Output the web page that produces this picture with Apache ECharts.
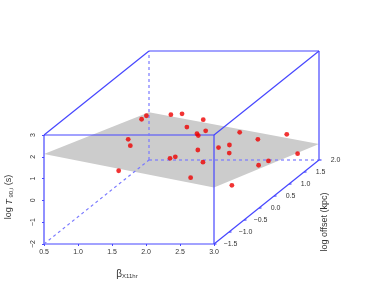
<!DOCTYPE html>
<html>
<head>
<meta charset="utf-8">
<script src="https://cdn.jsdelivr.net/npm/echarts@6/dist/echarts.min.js"></script>
<style>html,body{margin:0;padding:0;background:#fff}#c{width:374px;height:307px}</style>
</head>
<body>
<div id="c"></div>
<script>
// ---- data ----
const xRange = [0.5, 3.0];          // beta_X11hr
const yRange = [-1.5, 2.0];         // log offset (kpc)
const zRange = [-2, 3];             // log T90,i (s)
const xTicks = [0.5, 1.0, 1.5, 2.0, 2.5, 3.0];
const yTicks = [-1.5, -1.0, -0.5, 0.0, 0.5, 1.0, 1.5, 2.0];
const zTicks = [-2, -1, 0, 1, 2, 3];
const xVals = [0.70,0.55,0.91,1.03,1.43,1.41,1.47,1.71,1.51,0.90,1.24,1.88,1.78,1.99,2.22,1.51,2.48,2.14,2.01,2.57,2.41,2.08,2.43,2.95,2.83,2.95,2.91];
const yVals = [1.30,1.80,1.80,1.90,1.70,1.20,1.40,0.90,1.60,0.40,-0.30,0.50,-0.20,-0.50,-0.10,-1.30,-1.10,0.60,1.60,1.90,1.30,1.10,0.30,1.40,0.70,0.10,-0.70];
const zVals = [0.64,0.25,0.30,0.23,0.18,0.39,-0.13,0.33,-0.22,0.71,1.19,0.11,0.50,0.90,0.21,1.14,0.60,0.11,-0.29,-0.71,-0.28,-0.32,0.19,-1.05,-0.61,-0.15,-0.19];
// fitted plane: z at corners [y index][x index]
const planeZ = [[2.13, 0.59], [0.19, -1.27]];

// ---- oblique projection (scatterplot3d-style) ----
const kx = 30 / 68, kz = 24 / 21.8;
function proj(x, y, z) { return [x + (y - yRange[0]) * kx, z + (y - yRange[0]) * kz]; }

const X0 = xRange[0], X1 = xRange[1], Y0 = yRange[0], Y1 = yRange[1], Z0 = zRange[0], Z1 = zRange[1];
const edges = [
  [[X0,Y0,Z0],[X1,Y0,Z0],0],[[X0,Y0,Z1],[X1,Y0,Z1],0],[[X0,Y0,Z0],[X0,Y0,Z1],0],[[X1,Y0,Z0],[X1,Y0,Z1],0],
  [[X0,Y1,Z1],[X1,Y1,Z1],0],[[X1,Y1,Z0],[X1,Y1,Z1],0],[[X0,Y1,Z0],[X0,Y1,Z1],1],[[X0,Y1,Z0],[X1,Y1,Z0],1],
  [[X0,Y0,Z1],[X0,Y1,Z1],0],[[X1,Y0,Z1],[X1,Y1,Z1],0],[[X1,Y0,Z0],[X1,Y1,Z0],0],[[X0,Y0,Z0],[X0,Y1,Z0],1]
];
const edgeData = edges.map(e => { const a = proj(...e[0]), b = proj(...e[1]); return [a[0], a[1], b[0], b[1], e[2]]; });
const planeCorners = [
  proj(xRange[0], yRange[0], planeZ[0][0]), proj(xRange[1], yRange[0], planeZ[0][1]),
  proj(xRange[1], yRange[1], planeZ[1][1]), proj(xRange[0], yRange[1], planeZ[1][0])
];
const pts = xVals.map((x, i) => proj(x, yVals[i], zVals[i]));
const depthTickData = yTicks.map(v => { const p = proj(xRange[1], v, zRange[0]); return [p[0], p[1], v]; });

const FONT = 'Liberation Sans, Arial, sans-serif';
const BLUE = '#4646ff';
const chart = echarts.init(document.getElementById('c'), null, {renderer: 'canvas'});
const minus = s => String(s).replace('-', '\u2212');

chart.setOption({
  animation: false,
  backgroundColor: '#ffffff',
  grid: {left: 44, top: 51, width: 275, height: 193},
  xAxis: {
    type: 'value', min: xRange[0], max: xRange[1] + (yRange[1] - yRange[0]) * kx,
    splitLine: {show: false}, axisLine: {show: false, onZero: false},
    axisTick: {show: true, customValues: xTicks, length: 2, lineStyle: {color: BLUE}},
    axisLabel: {customValues: xTicks, formatter: v => v.toFixed(1), fontSize: 7, margin: 5, color: '#333', fontFamily: FONT}
  },
  yAxis: {
    type: 'value', min: zRange[0], max: zRange[1] + (yRange[1] - yRange[0]) * kz,
    splitLine: {show: false}, axisLine: {show: false, onZero: false},
    axisTick: {show: true, customValues: zTicks, length: 2, lineStyle: {color: BLUE}},
    axisLabel: {customValues: zTicks, formatter: v => minus(v), rotate: 90, fontSize: 7, margin: 7, color: '#333', fontFamily: FONT}
  },
  series: [
    {
      type: 'custom', silent: true, clip: false, z: 1,
      data: [[0]],
      renderItem: (params, api) => ({
        type: 'polygon',
        shape: {points: planeCorners.map(c => api.coord(c))},
        style: {fill: '#cccccc', stroke: null}
      })
    },
    {
      type: 'custom', silent: true, clip: false, z: 2,
      data: edgeData,
      renderItem: (params, api) => {
        const a = api.coord([api.value(0), api.value(1)]);
        const b = api.coord([api.value(2), api.value(3)]);
        const dashed = api.value(4) === 1;
        return {
          type: 'line',
          shape: {x1: a[0], y1: a[1], x2: b[0], y2: b[1]},
          style: dashed ? {stroke: '#7a7aff', lineWidth: 1.2, lineDash: [3, 3]} : {stroke: BLUE, lineWidth: 1.2}
        };
      }
    },
    {
      type: 'custom', silent: true, clip: false, z: 3,
      data: depthTickData,
      renderItem: (params, api) => {
        const p = api.coord([api.value(0), api.value(1)]);
        const v = api.value(2);
        return {
          type: 'group',
          children: [
            {type: 'line', shape: {x1: p[0], y1: p[1], x2: p[0] + 2.5, y2: p[1]}, style: {stroke: BLUE, lineWidth: 1.2}},
            {type: 'text', x: p[0] + 16.5, y: p[1], style: {text: minus(v.toFixed(1)), fontSize: 7, fontFamily: FONT, fill: '#333', align: 'center', verticalAlign: 'middle'}}
          ]
        };
      }
    },
    {
      type: 'scatter', z: 4, data: pts, symbol: 'circle', symbolSize: 4.8,
      itemStyle: {color: '#ee0000'}, silent: true
    }
  ],
  graphic: [
    {
      type: 'text', x: 9, y: 197, rotation: Math.PI / 2, silent: true,
      style: {
        text: '{a|log }{t|T}{s| 90,i}{a| (s)}', align: 'center', verticalAlign: 'middle',
        rich: {
          a: {fontSize: 9, fontFamily: FONT, fill: '#333'},
          t: {fontSize: 9, fontFamily: FONT, fontStyle: 'italic', fill: '#333'},
          s: {fontSize: 6, fontFamily: FONT, fill: '#333', padding: [5, 0, 0, 0]}
        }
      }
    },
    {
      type: 'text', x: 127, y: 274, silent: true,
      style: {
        text: '{a|\u03b2}{s|X11hr}', align: 'center', verticalAlign: 'middle',
        rich: {
          a: {fontSize: 10, fontFamily: FONT, fill: '#333'},
          s: {fontSize: 6, fontFamily: FONT, fill: '#333', padding: [5, 0, 0, 0]}
        }
      }
    },
    {
      type: 'text', x: 325, y: 222, rotation: Math.PI / 2, silent: true,
      style: {text: 'log offset (kpc)', fontSize: 9, fontFamily: FONT, fill: '#333', align: 'center', verticalAlign: 'middle'}
    }
  ]
});
</script>
</body>
</html>
